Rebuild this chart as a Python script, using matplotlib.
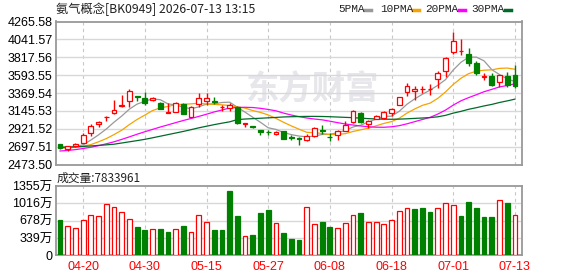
import matplotlib
matplotlib.use("Agg")
import matplotlib.pyplot as plt
from matplotlib.lines import Line2D
import numpy as np

# ---------------- data ----------------
title = "氨气概念[BK0949] 2026-07-13 13:15"
x_tick_labels = ["04-20", "04-30", "05-15", "05-27", "06-08", "06-18", "07-01", "07-13"]
x_tick_index = [3, 11, 19, 27, 35, 43, 51, 59]

price_ticks = [2473.50, 2697.51, 2921.52, 3145.53, 3369.54, 3593.55, 3817.56, 4041.57, 4265.58]
vol_ticks = [0, 338.75, 677.5, 1016.25, 1355]
vol_tick_labels = ["0", "339万", "678万", "1016万", "1355万"]

opens = [2728, 2675, 2708, 2750, 2866, 2980, 3065, 3118, 3205, 3268,
         3333, 3305, 3285, 3248, 3120, 3137, 3232, 3075, 3230, 3265,
         3265, 3190, 3185, 3198, 2985, 2957, 2905, 2882, 2855, 2893,
         2815, 2812, 2784, 2830, 2902, 2820, 2846, 2900, 3005, 3122,
         2980, 3046, 3055, 3125, 3222, 3385, 3393, 3415, 3418, 3543,
         3648, 3882, 3895, 3865, 3740, 3572, 3587, 3505, 3582, 3595]
highs = [2735, 2712, 2740, 2870, 2982, 3020, 3082, 3283, 3349, 3420,
         3336, 3383, 3315, 3262, 3250, 3255, 3245, 3205, 3374, 3366,
         3316, 3220, 3245, 3205, 2995, 2960, 2908, 2905, 2895, 2898,
         2842, 2815, 2857, 2940, 2966, 2874, 2905, 3020, 3158, 3132,
         3033, 3095, 3145, 3180, 3325, 3492, 3458, 3458, 3480, 3646,
         3820, 4130, 4045, 3937, 3775, 3617, 3617, 3600, 3637, 3720]
lows = [2675, 2645, 2700, 2745, 2835, 2945, 3025, 3108, 3200, 3200,
        3275, 3215, 3265, 3170, 3115, 3135, 3105, 3070, 3200, 3220,
        3230, 3145, 3150, 2985, 2950, 2928, 2842, 2842, 2848, 2790,
        2782, 2725, 2768, 2825, 2858, 2775, 2782, 2895, 2992, 2998,
        2937, 3040, 3045, 3083, 3215, 3330, 3285, 3366, 3345, 3430,
        3575, 3855, 3845, 3712, 3600, 3533, 3458, 3445, 3450, 3438]
closes = [2680, 2705, 2730, 2840, 2957, 3005, 3070, 3155, 3222, 3394,
          3318, 3245, 3305, 3175, 3130, 3248, 3110, 3198, 3303, 3302,
          3260, 3198, 3215, 2992, 2992, 2940, 2880, 2878, 2885, 2797,
          2808, 2790, 2830, 2935, 2896, 2815, 2898, 2968, 3148, 3012,
          3015, 3078, 3135, 3165, 3315, 3457, 3415, 3422, 3424, 3615,
          3815, 4020, 3902, 3745, 3620, 3578, 3472, 3595, 3472, 3460]

ma5 = [2695, 2697, 2702, 2722, 2782, 2847, 2920, 3005, 3082, 3169,
       3232, 3267, 3297, 3287, 3235, 3221, 3194, 3172, 3198, 3232,
       3235, 3252, 3256, 3193, 3131, 3067, 3004, 2936, 2915, 2876,
       2850, 2832, 2822, 2832, 2852, 2853, 2875, 2902, 2945, 2968,
       3008, 3044, 3078, 3081, 3142, 3230, 3297, 3355, 3407, 3467,
       3538, 3659, 3755, 3819, 3820, 3773, 3663, 3602, 3547, 3515]
ma10 = [2678, 2684, 2692, 2705, 2725, 2760, 2800, 2850, 2905, 2976,
        3040, 3094, 3151, 3185, 3202, 3226, 3230, 3235, 3243, 3233,
        3228, 3223, 3214, 3196, 3182, 3151, 3128, 3096, 3054, 3004,
        2959, 2918, 2879, 2874, 2864, 2851, 2853, 2862, 2889, 2910,
        2931, 2960, 2990, 3013, 3055, 3119, 3171, 3216, 3244, 3304,
        3384, 3478, 3555, 3613, 3644, 3656, 3661, 3679, 3683, 3668]
ma20 = [2645, 2652, 2662, 2676, 2692, 2712, 2735, 2760, 2790, 2822,
        2855, 2886, 2915, 2945, 2972, 3000, 3027, 3052, 3078, 3105,
        3134, 3158, 3183, 3190, 3192, 3189, 3179, 3165, 3148, 3119,
        3095, 3075, 3058, 3045, 3035, 3018, 3000, 2983, 2970, 2958,
        2948, 2943, 2942, 2948, 2962, 2985, 3012, 3039, 3066, 3107,
        3157, 3219, 3273, 3313, 3349, 3387, 3416, 3447, 3464, 3486]
ma30 = [2690, 2693, 2697, 2702, 2708, 2715, 2722, 2730, 2745, 2760,
        2775, 2791, 2810, 2830, 2850, 2870, 2890, 2912, 2935, 2955,
        2975, 2993, 3010, 3038, 3045, 3050, 3055, 3060, 3065, 3071,
        3074, 3076, 3078, 3078, 3077, 3074, 3070, 3066, 3062, 3056,
        3050, 3046, 3043, 3042, 3044, 3048, 3053, 3058, 3063, 3073,
        3091, 3119, 3141, 3167, 3187, 3209, 3228, 3252, 3272, 3294]

volumes = [690, 567, 528, 684, 782, 762, 997, 938, 841, 704,
           553, 494, 508, 514, 455, 508, 573, 450, 782, 645,
           494, 494, 1257, 768, 371, 397, 827, 886, 626, 430,
           319, 299, 938, 606, 651, 553, 528, 626, 782, 827,
           645, 645, 606, 684, 860, 919, 905, 925, 847, 919,
           1022, 977, 768, 1042, 925, 749, 749, 1075, 1022, 783]
vol_up = [0, 1, 1, 1, 1, 1, 1, 1, 1, 1,
          0, 0, 1, 0, 0, 1, 0, 1, 1, 1,
          0, 0, 0, 0, 1, 0, 0, 0, 1, 0,
          0, 0, 1, 1, 0, 0, 1, 1, 1, 0,
          1, 1, 1, 1, 1, 1, 0, 0, 0, 1,
          1, 1, 0, 0, 0, 0, 0, 1, 0, 1]
last_volume = "7833961"

# ---------------- style ----------------
RED = "#ff0000"
GREEN = "#008000"
C5, C10, C20, C30 = "#999999", "#f5a300", "#ff00ff", "#006a2a"
FRAME = "#999999"
GRID = "#d8d8d8"
VGRID = "#c8c8c8"
NUM_FONT = ["Liberation Sans", "Noto Sans CJK SC"]
CJK_FONT = ["Noto Sans CJK SC", "DejaVu Sans"]

W, H = 578, 276
fig = plt.figure(figsize=(W / 100, H / 100), dpi=100)
fig.patch.set_facecolor("white")

ax = fig.add_axes([56 / W, 1 - 164.7 / H, 466 / W, 143.2 / H])
axv = fig.add_axes([56 / W, 1 - 255.3 / H, 466 / W, 69.3 / H])

n = len(closes)
x = np.arange(n)
XLIM = (-0.52, 59.92)

for a in (ax, axv):
    a.set_xlim(*XLIM)
    for s in a.spines.values():
        s.set_color(FRAME)
        s.set_linewidth(1.3)
    a.tick_params(length=0)
    a.set_xticks(x_tick_index)
    for xi in x_tick_index:
        a.axvline(xi, color=VGRID, lw=0.8, ls=(0, (3, 3)), zorder=0)

# watermark
ax.text(0.55, 0.52, "东方财富", transform=ax.transAxes, ha="center", va="center",
        fontsize=24, fontweight="bold", color="#e6e6eb", family=CJK_FONT, zorder=0)

# price axis
ax.set_ylim(price_ticks[0], price_ticks[-1])
ax.set_yticks(price_ticks)
ax.set_yticklabels([f"{v:.2f}" for v in price_ticks], family=NUM_FONT, fontsize=9)
ax.tick_params(axis="y", pad=2.5)
ax.set_xticklabels([])
for v in price_ticks[1:-1]:
    ax.axhline(v, color=GRID, lw=1, zorder=0)

# MA lines
ax.plot(x, ma5, color=C5, lw=0.9, zorder=2)
ax.plot(x, ma10, color=C10, lw=0.9, zorder=2)
ax.plot(x, ma20, color=C20, lw=0.9, zorder=2)
ax.plot(x, ma30, color=C30, lw=0.9, zorder=2)

# candles
bw = 0.62
for i in range(n):
    o, h, l, c = opens[i], highs[i], lows[i], closes[i]
    up = c >= o
    col = RED if up else GREEN
    lo_b, hi_b = min(o, c), max(o, c)
    hgt = max(hi_b - lo_b, 4)
    ax.vlines(i, l, lo_b, color=col, lw=1, zorder=3)
    ax.vlines(i, hi_b, h, color=col, lw=1, zorder=3)
    ax.bar(i, hgt, bottom=lo_b, width=bw, facecolor="white" if up else GREEN,
           edgecolor=col, linewidth=0.9, zorder=4)

# volume
axv.set_ylim(0, vol_ticks[-1])
axv.set_yticks(vol_ticks)
axv.set_yticklabels(vol_tick_labels, family=NUM_FONT, fontsize=9)
axv.tick_params(axis="y", pad=2.5)
for v in vol_ticks[1:-1]:
    axv.axhline(v, color=GRID, lw=1, zorder=0)
for i in range(n):
    up = vol_up[i] == 1
    axv.bar(i, volumes[i], width=bw, facecolor="white" if up else GREEN,
            edgecolor=RED if up else GREEN, linewidth=0.9, zorder=3)
axv.set_xticklabels(x_tick_labels, family=NUM_FONT, fontsize=9, color=RED)
axv.tick_params(axis="x", pad=4)

# title & labels
fig.text(56 / W, 1 - 9.5 / H, title, ha="left", va="center", fontsize=8.8,
         family=CJK_FONT, color="#222222")
fig.text(57 / W, 1 - 178 / H, "成交量:" + last_volume, ha="left", va="center",
         fontsize=8.5, family=CJK_FONT, color="#222222")

# legend
legend_items = [("5PMA", C5, 338, 365), ("10PMA", C10, 380, 413),
                ("20PMA", C20, 425, 459), ("30PMA", C30, 471, 505)]
for lab, col, tx, dx in legend_items:
    fig.text(tx / W, 1 - 9.5 / H, lab, ha="left", va="center", fontsize=8,
             family=["Liberation Mono", "DejaVu Sans Mono"], color="#222222")
    fig.add_artist(Line2D([dx / W, (dx + 6) / W], [1 - 9.5 / H, 1 - 9.5 / H],
                          color=col, lw=2.5, transform=fig.transFigure))

fig.savefig("out.png", dpi=100, facecolor="white")
